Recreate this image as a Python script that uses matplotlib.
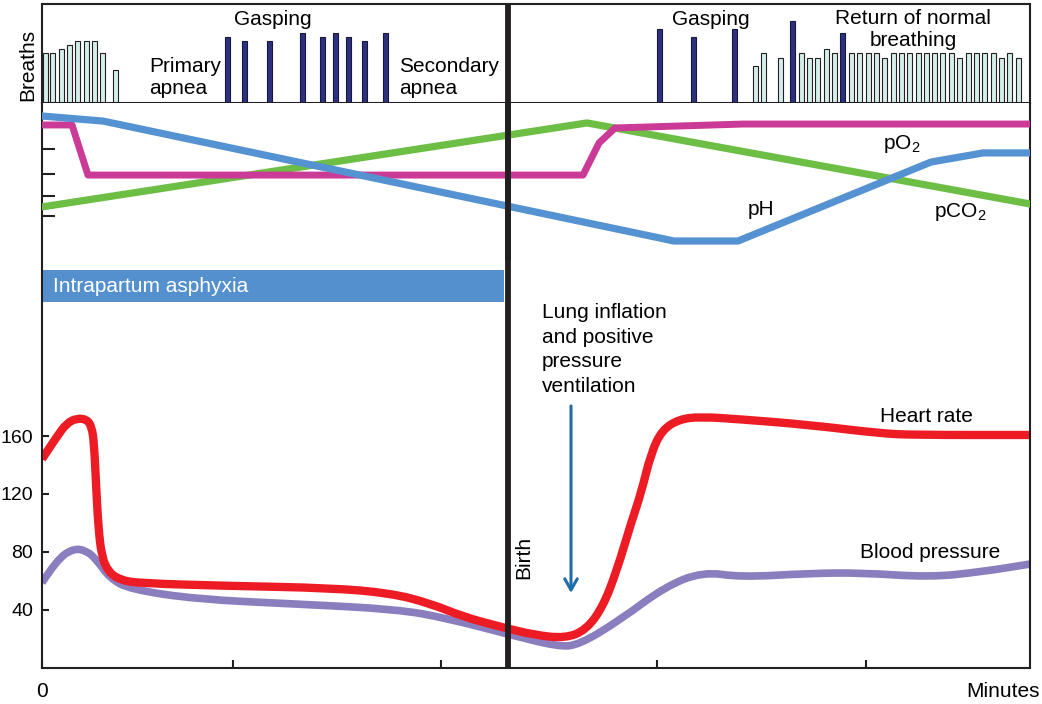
import numpy as np
import matplotlib
matplotlib.use("Agg")
import matplotlib.pyplot as plt
from matplotlib.patches import Rectangle, PathPatch
from matplotlib.path import Path

plt.rcParams['font.family'] = ['Liberation Sans', 'DejaVu Sans']
plt.rcParams['mathtext.default'] = 'regular'

# time runs in arbitrary units, birth at 46.6
t_end = 98.8
birth = 46.6
minute_ticks = [0, 19.1, 39.9, 61.5, 82.4]

# breaths (bar positions and heights)
normal_x = [0.3, 1.07, 1.9, 2.73, 3.57, 4.4, 5.23, 6.07, 7.33,
            71.34, 72.17, 73.83, 75.9, 76.7, 77.53, 78.4, 79.23,
            80.92, 81.79, 82.62, 83.45, 84.28, 85.11, 85.94, 86.77, 87.6, 88.43, 89.26,
            90.09, 90.96, 91.79, 92.62, 93.45, 94.28, 95.11, 95.94, 96.77, 97.6]
normal_h = [50, 50, 54, 58, 62, 62, 62, 50, 32.6,
            37.3, 50, 45.6, 50, 45.6, 45.6, 54, 50,
            50, 50, 50, 50, 45.6, 50, 50, 50, 50, 50, 50,
            50, 50, 45.6, 50, 50, 50, 50, 45.6, 50, 45.6]
gasp_x = [18.57, 20.2, 22.73, 26.03, 28.07, 29.37, 30.6, 32.23, 34.37,
          61.79, 65.11, 69.26, 75.07, 80.06]
gasp_h = [66.6, 62.6, 62.6, 70.6, 66.6, 70.6, 66.6, 62.6, 70.6,
          74.3, 66, 74.3, 82.6, 70.3]

# blood gases (relative scale 0-100)
ph_t = [0, 6.1, 46.5, 63.2, 69.6, 88.9, 94.1, 98.8]
ph_v = [91.7, 88.5, 34.4, 12.1, 12.1, 62.4, 68.2, 68.2]
po2_t = [0, 3.0, 4.6, 54.1, 55.7, 57.3, 70.1, 98.8]
po2_v = [86.0, 86.0, 54.1, 54.1, 74.5, 84.1, 86.6, 86.6]
pco2_t = [0, 54.5, 98.8]
pco2_v = [33.8, 87.3, 35.7]
gas_ticks = [70.7, 54.8, 40.8, 28.0]

# heart rate and blood pressure
hr_t = [0, 1.47, 2.47, 3.47, 4.47, 4.97, 5.2, 5.4, 5.63, 5.97, 6.63, 7.8, 9.8,
        18.8, 28.8, 34.8, 38.8, 42.1, 45.8, 49.2, 52.3, 54.4, 56.1, 57.5, 58.9,
        59.9, 60.9, 62.0, 63.7, 65.8, 69.9, 76.8, 83.7, 87.1, 98.8]
hr_v = [144.1, 159.5, 168.8, 172.2, 171.5, 166.4, 155.2, 127.6, 97.4, 76.8, 66.4, 60.7, 58.4,
        56.6, 55.2, 51.7, 44.6, 35.4, 28.5, 22.8, 20.5, 26.2, 42.3, 67.6, 99.8,
        120.5, 148.1, 164.1, 171.5, 173.3, 171.5, 167.6, 161.9, 160.7, 160.7]
bp_t = [0, 1.47, 3.13, 4.47, 5.47, 6.8, 8.8, 15.5, 25.5, 35.5, 40.5, 46.5,
        51.6, 53.7, 57.8, 62.3, 66.1, 69.9, 76.8, 81.9, 88.8, 94.0, 98.8]
bp_v = [58.8, 74.5, 82.5, 80.9, 74.5, 61.8, 54.3, 47.4, 44.1, 40.5, 34.3, 23.5,
        14.7, 15.9, 33.1, 56.1, 66.4, 62.6, 65.3, 65.7, 62.6, 66.4, 71.7]
hr_ticks = [40, 80, 120, 160]


def smooth_line(ax, t, v, **kw):
    # quadratic bezier through the read points (drawn by matplotlib's path)
    pts = np.column_stack([t, v])
    verts = [pts[0]]
    codes = [Path.MOVETO]
    for i in range(1, len(pts) - 1):
        verts += [pts[i], (pts[i] + pts[i + 1]) / 2]
        codes += [Path.CURVE3, Path.CURVE3]
    verts.append(pts[-1])
    codes.append(Path.LINETO)
    ax.add_patch(PathPatch(Path(verts, codes), fill=False, joinstyle='round', capstyle='butt', **kw))


ink = '#231F20'
W, H = 1042, 704
fig = plt.figure(figsize=(W / 100, H / 100), dpi=100)
ax_b = fig.add_axes([42 / W, 1 - 103 / H, 988 / W, 99 / H])
ax = fig.add_axes([42 / W, 1 - 668 / H, 988 / W, 565 / H])
ax_g = fig.add_axes([42 / W, 1 - 260 / H, 988 / W, 157 / H], sharex=ax)

# breaths panel
ax_b.bar(normal_x, normal_h, width=0.5, color='#D4EEEC', edgecolor=ink, linewidth=0.8)
ax_b.bar(gasp_x, gasp_h, width=0.5, color='#2E3180', edgecolor='#15173F', linewidth=0.8)
ax_b.set_xlim(0, t_end)
ax_b.set_ylim(0, 99.3)
ax_b.set_xticks([])
ax_b.set_yticks([])
ax_b.axvline(birth, color=ink, lw=4.2)
for s in ax_b.spines.values():
    s.set_linewidth(1.5)
    s.set_color(ink)
fs = 15
# va='baseline' on multi-line text aligns the last line
ax_b.text(23.1, 78.3, "Gasping", fontsize=fs, ha='center', va='baseline')
ax_b.text(10.7, 9.3, "Primary\napnea", fontsize=fs, ha='left', va='baseline')
ax_b.text(35.7, 9.3, "Secondary\napnea", fontsize=fs, ha='left', va='baseline')
ax_b.text(66.9, 78.3, "Gasping", fontsize=fs, ha='center', va='baseline')
ax_b.text(87.1, 57.3, "Return of normal\nbreathing", fontsize=fs, ha='center', va='baseline')
fig.text(27.5 / W, 1 - 65 / H, "Breaths", fontsize=fs, rotation=90, ha='center', va='center')

# main panel: heart rate, blood pressure
smooth_line(ax, bp_t, bp_v, edgecolor='#8A7EBF', lw=5.5)
smooth_line(ax, hr_t, hr_v, edgecolor='#ED1C24', lw=6)
ax.axvline(birth, color=ink, lw=4.2, zorder=5)
ax.set_xlim(0, t_end)
ax.set_ylim(0, 565 / 1.45)
ax.spines['top'].set_visible(False)
for k in ['left', 'right', 'bottom']:
    ax.spines[k].set_linewidth(1.5)
    ax.spines[k].set_color(ink)
ax.set_yticks(hr_ticks)
ax.set_yticklabels([str(v) for v in hr_ticks])
ax.tick_params(axis='y', direction='in', length=5, width=1.5, pad=6.5, labelsize=14, color=ink)
ax.set_xticks(minute_ticks)
ax.set_xticklabels(["0", "", "", "", ""])
ax.tick_params(axis='x', direction='in', length=6, width=1.5, pad=10, labelsize=15, color=ink)
fig.text(1040 / W, 1 - 697 / H, "Minutes", fontsize=fs, ha='right', va='baseline')

ax.add_patch(Rectangle((0, 252.4), 46.2, 22.1, facecolor='#5590CE', edgecolor='none'))
ax.text(1.13, 259.1, "Intrapartum asphyxia", fontsize=fs, color='white', ha='left', va='baseline')
ax.text(50.0, 190.6, "Lung inflation\nand positive\npressure\nventilation", fontsize=fs,
        ha='left', va='baseline', linespacing=1.36)
ax.annotate('', xy=(52.9, 51.7), xytext=(52.9, 180.7),
            arrowprops=dict(arrowstyle='->, head_length=0.8, head_width=0.45',
                            color='#1F6DA8', lw=2.2, shrinkA=0, shrinkB=0))
ax.text(48.15, 76.2, "Birth", fontsize=fs, rotation=90, ha='center', va='center', zorder=6)
ax.text(83.8, 169.9, "Heart rate", fontsize=fs, ha='left', va='baseline')
ax.text(81.8, 75.7, "Blood pressure", fontsize=fs, ha='left', va='baseline')

# blood gases panel
ax_g.patch.set_alpha(0)
for s in ax_g.spines.values():
    s.set_visible(False)
ax_g.plot(pco2_t, pco2_v, color='#6CBE45', lw=5.2, solid_joinstyle='round')
ax_g.plot(po2_t, po2_v, color='#CB3A97', lw=5.0, solid_joinstyle='round')
ax_g.plot(ph_t, ph_v, color='#5592D2', lw=5.2, solid_joinstyle='round')
ax_g.axvline(birth, color=ink, lw=4.2, zorder=5)
ax_g.set_ylim(0, 100)
ax_g.set_yticks(gas_ticks)
ax_g.set_yticklabels([])
ax_g.tick_params(axis='y', direction='in', length=9, width=1.5, color=ink)
ax_g.tick_params(axis='x', bottom=False, labelbottom=False)
ax_g.text(84.1, 70.5, "pO$_2$", fontsize=fs, ha='left', va='baseline')
ax_g.text(70.6, 28.7, "pH", fontsize=fs, ha='left', va='baseline')
ax_g.text(89.2, 27.2, "pCO$_2$", fontsize=fs, ha='left', va='baseline')

fig.savefig("out.png", dpi=100)
